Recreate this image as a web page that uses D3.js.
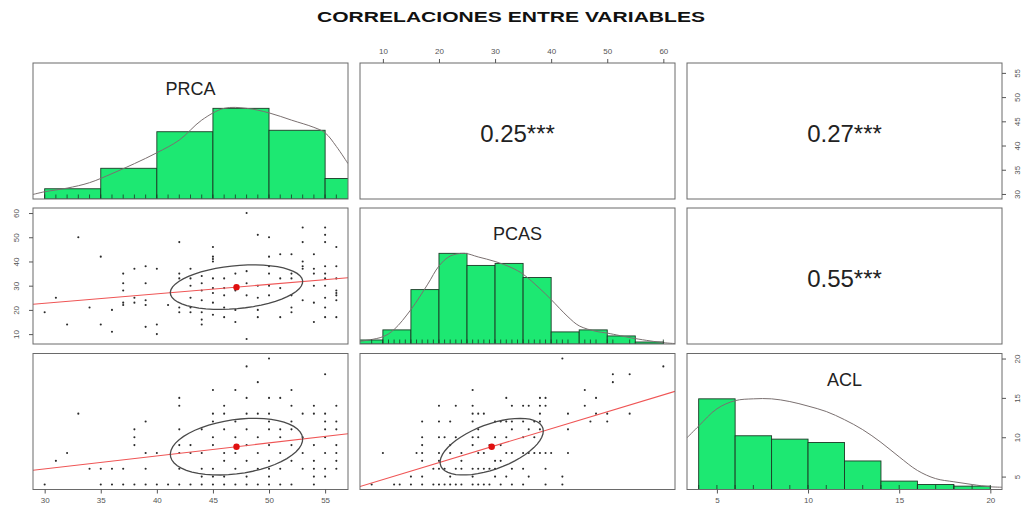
<!DOCTYPE html>
<html>
<head>
<meta charset="utf-8">
<script src="https://cdn.jsdelivr.net/npm/d3@7"></script>
<style>
body { margin: 0; background: #fff; }
text { font-family: "Liberation Sans", Arial, sans-serif; }
</style>
</head>
<body>
<div id="chart"></div>
<script>
// variables (diagonal) and their data ranges
const varNames = ['PRCA', 'PCAS', 'ACL'];
const varRanges = [[30, 56], [8, 60], [4, 20]];
const varMeans = [47.1, 29.4, 8.8];
const varSds = [5.9, 9.2, 3.6];
const corrPairs = [[0, 1, 0.25], [0, 2, 0.27], [1, 2, 0.55]];
const corrStars = '***';

const prcaTicks = [30, 35, 40, 45, 50, 55];
const pcasTicks = [10, 20, 30, 40, 50, 60];
const aclTicks = [5, 10, 15, 20];

// histogram bins
const prcaBreaks = [30, 35, 40, 45, 50, 55, 60];
const prcaCounts = [7, 21, 46, 62, 47, 14];
const pcasBreaks = [5, 10, 15, 20, 25, 30, 35, 40, 45, 50, 55, 60];
const pcasCounts = [2, 7, 27, 45, 39, 40, 33, 6, 7, 4, 1];
const aclBreaks = [4, 6, 8, 10, 12, 14, 16, 18, 20];
const aclCounts = [54, 32, 30, 28, 17, 5, 3, 2];

// density curves (scaled to max 1)
const prcaDensity = [[28.96,0.05],[30,0.08],[32,0.12],[34,0.18],[36,0.28],[38,0.39],[40,0.51],[42,0.65],[44,0.87],[46,1.0],[48,1.0],[50,0.95],[52,0.87],[54,0.79],[55,0.73],[56,0.58],[57.04,0.39]];
const pcasDensity = [[5.92,0.03],[10,0.08],[12,0.16],[15,0.38],[18,0.66],[20,0.86],[22,0.97],[24.5,1.0],[27,0.96],[30,0.91],[33,0.84],[35,0.77],[38,0.61],[40,0.49],[43,0.3],[45,0.2],[48,0.14],[50,0.12],[55,0.06],[60,0.015],[62.08,0.005]];
const aclDensity = [[3.36,0.57],[4,0.7],[5,0.89],[6,0.98],[7,1.0],[8,1.0],[9,0.97],[10,0.92],[11,0.86],[12,0.77],[13,0.66],[14,0.52],[15,0.36],[16,0.21],[17,0.12],[18,0.085],[19,0.055],[20,0.03],[20.64,0.025]];

// scatter points
const prcaPcas = [[30,19],[31,25],[32,14],[33,50],[34,21],[35,42],[35,14],[36,11],[36,20],[37,35],[37,31],[37,28],[37,23],[37,22],[38,37],[38,25],[38,23],[39,38],[39,31],[39,24],[39,22],[39,13],[40,37],[40,14],[40,10],[41,22],[42,48],[42,35],[42,33],[42,21],[42,19],[43,37],[43,33],[43,30],[43,25],[43,21],[43,19],[44,34],[44,31],[44,28],[44,24],[44,19],[44,16],[44,14],[45,46],[45,42],[45,41],[45,40],[45,33],[45,29],[45,27],[45,23],[45,18],[46,33],[46,29],[46,26],[46,21],[46,17],[47,35],[47,30],[47,28],[47,20],[47,15],[48,60],[48,36],[48,31],[48,26],[48,8],[49,51],[49,30],[49,25],[49,20],[49,17],[50,50],[50,42],[50,38],[50,35],[50,30],[50,26],[51,43],[51,33],[51,29],[51,17],[52,43],[52,35],[52,33],[52,26],[52,21],[52,19],[53,54],[53,48],[53,40],[53,38],[53,37],[53,24],[54,43],[54,37],[54,35],[54,30],[54,23],[54,15],[55,54],[55,51],[55,48],[55,38],[55,35],[55,33],[55,30],[55,25],[55,21],[55,17],[56,46],[56,38],[56,33],[56,28],[56,27],[56,26],[56,24],[56,17]];
const prcaAcl = [[30,4],[31,7],[32,8],[33,13],[34,6],[35,6],[35,4],[36,6],[36,4],[37,6],[37,4],[38,11],[38,10],[38,9],[38,4],[39,12],[39,8],[39,6],[39,4],[40,8],[40,4],[41,4],[42,15],[42,14],[42,11],[42,9],[42,8],[42,6],[42,4],[43,9],[43,8],[43,4],[44,11],[44,8],[44,6],[44,5],[44,4],[45,16],[45,13],[45,12],[45,10],[45,9],[45,6],[45,5],[45,4],[46,14],[46,13],[46,11],[46,8],[46,7],[46,5],[46,4],[47,16],[47,12],[47,10],[47,8],[47,6],[47,4],[48,19],[48,15],[48,13],[48,11],[48,9],[48,7],[48,5],[48,4],[49,17],[49,13],[49,10],[49,8],[49,6],[49,4],[50,20],[50,15],[50,13],[50,12],[50,11],[50,9],[50,7],[50,6],[50,5],[50,4],[51,15],[51,11],[51,10],[51,8],[51,6],[51,4],[52,16],[52,14],[52,12],[52,11],[52,9],[52,7],[52,4],[53,13],[53,10],[53,8],[53,6],[54,14],[54,13],[54,9],[54,7],[54,6],[54,5],[54,4],[55,18],[55,13],[55,12],[55,11],[55,10],[55,8],[55,6],[55,5],[56,14],[56,12],[56,11],[56,9],[56,8],[56,7],[56,6]];
const pcasAcl = [[8,4],[10,8],[12,4],[13,4],[15,4],[15,5],[16,8],[17,12],[17,10],[17,9],[17,8],[17,7],[17,5],[17,4],[19,6],[19,4],[20,14],[20,12],[20,10],[20,8],[20,7],[20,6],[20,4],[21,10],[21,6],[21,4],[22,12],[22,9],[22,8],[22,5],[22,4],[23,14],[23,10],[23,6],[23,4],[24,8],[24,7],[24,6],[24,4],[26,16],[26,14],[26,13],[26,12],[26,10],[26,9],[26,6],[26,5],[26,4],[27,13],[27,11],[27,10],[27,8],[27,6],[27,4],[28,13],[28,8],[28,6],[28,4],[29,9],[29,6],[29,4],[30,12],[30,10],[30,7],[30,6],[30,5],[31,12],[31,9],[31,7],[31,4],[32,15],[32,12],[32,10],[32,8],[32,5],[33,14],[33,12],[33,11],[33,8],[33,6],[33,4],[35,14],[35,12],[35,10],[35,8],[35,6],[35,4],[36,14],[36,11],[36,8],[36,5],[37,12],[37,10],[37,8],[38,15],[38,14],[38,13],[38,12],[38,11],[38,8],[39,15],[39,14],[39,8],[39,6],[39,4],[40,8],[42,20],[42,5],[42,4],[43,13],[43,11],[43,8],[46,16],[46,14],[47,12],[48,15],[48,13],[50,13],[50,12],[51,18],[51,17],[54,18],[54,13],[60,19]];

const W = 1022, H = 516;
const panelLeft = [33, 360, 687], panelTop = [63, 208, 353.5];
const pw = 315, ph = 136;
const histFill = '#1de872';

const svg = d3.select('#chart').append('svg')
  .attr('width', W).attr('height', H);

const xs = varRanges.map((r, i) => {
  const e = (r[1] - r[0]) * 0.04;
  return d3.scaleLinear().domain([r[0] - e, r[1] + e]).range([panelLeft[i], panelLeft[i] + pw]);
});
const ys = varRanges.map((r, i) => {
  const e = (r[1] - r[0]) * 0.04;
  return d3.scaleLinear().domain([r[0] - e, r[1] + e]).range([panelTop[i] + ph, panelTop[i]]);
});

const hists = [
  {breaks: prcaBreaks, counts: prcaCounts, dens: prcaDensity},
  {breaks: pcasBreaks, counts: pcasCounts, dens: pcasDensity},
  {breaks: aclBreaks, counts: aclCounts, dens: aclDensity}
];
const scatters = {'1-0': prcaPcas, '2-0': prcaAcl, '2-1': pcasAcl};
const rugs = [
  Array.from(new Set(prcaAcl.map(d => d[0]).concat(prcaPcas.map(d => d[0])))),
  Array.from(new Set(pcasAcl.map(d => d[0]).concat(prcaPcas.map(d => d[1])))),
  Array.from(new Set(prcaAcl.map(d => d[1]).concat(pcasAcl.map(d => d[1]))))
];

svg.append('text')
  .attr('x', 511).attr('y', 22)
  .attr('text-anchor', 'middle')
  .attr('font-size', 14).attr('font-weight', 'bold')
  .attr('textLength', 388).attr('lengthAdjust', 'spacingAndGlyphs')
  .attr('fill', '#111')
  .text('CORRELACIONES ENTRE VARIABLES');

const defs = svg.append('defs');

function ellipse(mx, my, sx, sy, r) {
  const th = (r >= 0 ? 1 : -1) / Math.sqrt(2), a = Math.sqrt(1 + r), b = Math.sqrt(1 - r);
  return d3.range(52).map(k => {
    const t = k * 2 * Math.PI / 51, c = Math.cos(t), s = Math.sin(t);
    return [(c * a * th - s * b * th) * sx + mx, (c * a * th + s * b * th) * sy + my];
  });
}

for (let i = 0; i < 3; i++) {
  for (let j = 0; j < 3; j++) {
    const id = 'clip' + i + j;
    defs.append('clipPath').attr('id', id)
      .append('rect').attr('x', panelLeft[j]).attr('y', panelTop[i]).attr('width', pw).attr('height', ph);
    const g = svg.append('g');
    const inner = g.append('g').attr('clip-path', 'url(#' + id + ')');
    const x = xs[j];

    if (i === j) {
      const h = hists[i];
      const hy = d3.scaleLinear().domain([0, 1.5]).range([panelTop[i] + ph, panelTop[i]]);
      const mx = d3.max(h.counts);
      inner.selectAll('rect.bar')
        .data(h.counts)
        .join('rect')
        .attr('class', 'bar')
        .attr('x', (d, k) => x(h.breaks[k]))
        .attr('width', (d, k) => x(h.breaks[k + 1]) - x(h.breaks[k]))
        .attr('y', d => hy(d / mx))
        .attr('height', d => hy(0) - hy(d / mx))
        .attr('fill', histFill)
        .attr('stroke', '#1c3a26').attr('stroke-width', 0.9);
      inner.append('path')
        .datum(h.dens)
        .attr('d', d3.line().x(d => x(d[0])).y(d => hy(d[1])).curve(d3.curveCatmullRom))
        .attr('fill', 'none').attr('stroke', '#7a7070').attr('stroke-width', 1);
      inner.selectAll('line.rug')
        .data(rugs[i])
        .join('line')
        .attr('class', 'rug')
        .attr('x1', d => x(d)).attr('x2', d => x(d))
        .attr('y1', panelTop[i] + ph).attr('y2', panelTop[i] + ph - 4.5)
        .attr('stroke', '#1c3a26').attr('stroke-width', 0.8);
      g.append('text')
        .attr('x', panelLeft[j] + pw / 2).attr('y', panelTop[i] + 32)
        .attr('text-anchor', 'middle').attr('font-size', 18).attr('fill', '#222')
        .text(varNames[i]);
    } else if (i < j) {
      const c = corrPairs.find(p => p[0] === i && p[1] === j);
      g.append('text')
        .attr('x', panelLeft[j] + pw / 2).attr('y', panelTop[i] + ph / 2 + 11)
        .attr('text-anchor', 'middle').attr('font-size', 24).attr('fill', '#222')
        .text(d3.format('.2f')(c[2]) + corrStars);
    } else {
      const y = ys[i];
      const pts = scatters[i + '-' + j];
      const r = corrPairs.find(p => p[0] === j && p[1] === i)[2];
      inner.selectAll('circle.pt')
        .data(pts)
        .join('circle')
        .attr('class', 'pt')
        .attr('cx', d => x(d[0])).attr('cy', d => y(d[1]))
        .attr('r', 1.05).attr('fill', '#2a2a2a');
      const slope = r * varSds[i] / varSds[j];
      const x0 = x.domain()[0], x1 = x.domain()[1];
      const fit = [x0, x1].map(v => [v, varMeans[i] + slope * (v - varMeans[j])]);
      inner.append('path')
        .datum(fit)
        .attr('d', d3.line().x(d => x(d[0])).y(d => y(d[1])))
        .attr('stroke', '#ef5555').attr('stroke-width', 1.1).attr('fill', 'none');
      inner.append('path')
        .datum(ellipse(varMeans[j], varMeans[i], varSds[j], varSds[i], r))
        .attr('d', d3.line().x(d => x(d[0])).y(d => y(d[1])))
        .attr('stroke', '#4a4a4a').attr('stroke-width', 1.3).attr('fill', 'none');
      inner.append('circle')
        .attr('cx', x(varMeans[j])).attr('cy', y(varMeans[i]))
        .attr('r', 3.2).attr('fill', '#e01010');
    }

    g.append('rect')
      .attr('x', panelLeft[j]).attr('y', panelTop[i]).attr('width', pw).attr('height', ph)
      .attr('fill', 'none').attr('stroke', '#6a6a6a').attr('stroke-width', 1);
  }
}

const tickSets = [prcaTicks, pcasTicks, aclTicks];

function styleAxis(sel) {
  sel.select('.domain').remove();
  sel.selectAll('.tick line').attr('stroke', '#555');
  sel.selectAll('.tick text').attr('fill', '#555').attr('font-size', 8)
    .attr('font-family', '"Liberation Sans", Arial, sans-serif');
}

// top axis over column 2
svg.append('g').attr('transform', `translate(0,${panelTop[0]})`)
  .call(d3.axisTop(xs[1]).tickValues(tickSets[1]).tickSize(4).tickPadding(5))
  .call(styleAxis);

// bottom axes under columns 1 and 3
[0, 2].forEach(j => {
  svg.append('g').attr('transform', `translate(0,${panelTop[2] + ph})`)
    .call(d3.axisBottom(xs[j]).tickValues(tickSets[j]).tickSize(4).tickPadding(4))
    .call(styleAxis);
});

// left axis on row 2
svg.append('g').attr('transform', `translate(${panelLeft[0]},0)`)
  .call(d3.axisLeft(ys[1]).tickValues(tickSets[1]).tickSize(4))
  .call(styleAxis)
  .call(a => a.selectAll('.tick text')
    .attr('transform', 'rotate(-90)').attr('x', 0).attr('y', -14).attr('dy', 0)
    .attr('text-anchor', 'middle'));

// right axes on rows 1 and 3
[0, 2].forEach(i => {
  svg.append('g').attr('transform', `translate(${panelLeft[2] + pw},0)`)
    .call(d3.axisRight(ys[i]).tickValues(tickSets[i]).tickSize(4))
    .call(styleAxis)
    .call(a => a.selectAll('.tick text')
      .attr('transform', 'rotate(-90)').attr('x', 0).attr('y', 18).attr('dy', 0)
      .attr('text-anchor', 'middle'));
});
</script>
</body>
</html>
